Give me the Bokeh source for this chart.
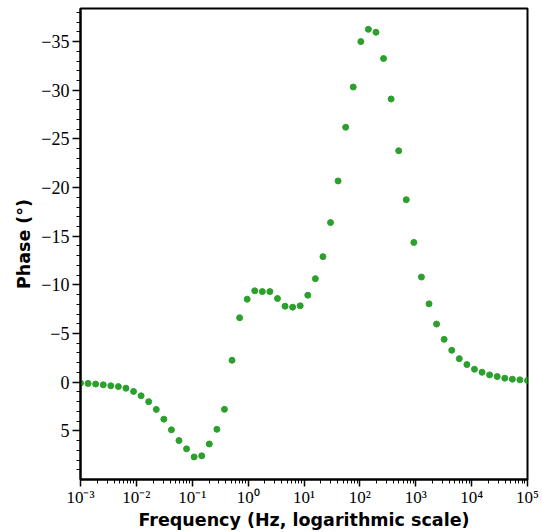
from bokeh.plotting import figure
from bokeh.models import Range1d, FixedTicker, CustomJSTickFormatter
from bokeh.embed import file_html
from bokeh.resources import INLINE

# Frequencies (Hz), log-spaced grid
freq = [0.001, 0.001367, 0.001868, 0.002552, 0.003488, 0.004764, 0.006512, 0.008896,
        0.01216, 0.01661, 0.02270, 0.03102, 0.04239, 0.05791, 0.07912, 0.1081,
        0.1477, 0.2019, 0.2759, 0.3770, 0.5151, 0.7038, 0.9618, 1.314, 1.796,
        2.454, 3.353, 4.581, 6.260, 8.555, 11.69, 15.97, 21.83, 29.83, 40.75,
        55.69, 76.09, 104.0, 142.1, 194.1, 265.3, 362.5, 495.3, 676.8, 924.8,
        1264, 1727, 2359, 3224, 4406, 6020, 8226, 11240, 15360, 20990, 28680,
        39190, 53550, 73170, 100000]

# Phase (degrees)
phase = [0.1, 0.13, 0.19, 0.27, 0.37, 0.45, 0.62, 0.95, 1.4, 2.0,
         2.8, 3.8, 4.9, 6.0, 6.85, 7.68, 7.57, 6.35, 4.84, 2.79,
         -2.25, -6.62, -8.53, -9.39, -9.31, -9.31, -8.6, -7.81, -7.71, -7.85,
         -8.94, -10.64, -12.9, -16.4, -20.68, -26.2, -30.33, -35.0, -36.26, -35.96,
         -33.26, -29.1, -23.78, -18.75, -14.36, -10.8, -8.05, -5.97, -4.4, -3.28,
         -2.42, -1.81, -1.33, -1.02, -0.75, -0.58, -0.41, -0.31, -0.24, -0.17]

x_major = [1e-3, 1e-2, 1e-1, 1e0, 1e1, 1e2, 1e3, 1e4, 1e5]
x_minor = [k * 10.0 ** e for e in range(-3, 5) for k in range(2, 10)]
y_major = [-35, -30, -25, -20, -15, -10, -5, 0, 5]
y_minor = list(range(-38, 10))

p = figure(width=542, height=532, x_axis_type="log",
           x_range=Range1d(1e-3, 1e5), y_range=Range1d(10, -38.4),
           output_backend="svg", toolbar_location=None,
           min_border_left=80, min_border_right=15,
           min_border_top=8, min_border_bottom=51)

p.scatter(freq, phase, size=6, color="#2ca02c", line_color="#2ca02c")

p.xgrid.visible = False
p.ygrid.visible = False
p.outline_line_color = "black"
p.outline_line_width = 2
p.outline_line_alpha = 1

p.xaxis.ticker = FixedTicker(ticks=x_major, minor_ticks=x_minor)
p.yaxis.ticker = FixedTicker(ticks=y_major, minor_ticks=y_minor)

p.xaxis.formatter = CustomJSTickFormatter(code="""
const e = Math.round(Math.log10(tick));
const m = {"-": "\\u207b", "0": "\\u2070", "1": "\\u00b9", "2": "\\u00b2", "3": "\\u00b3",
           "4": "\\u2074", "5": "\\u2075"};
return "10" + String(e).split("").map(c => m[c]).join("");
""")
p.yaxis.formatter = CustomJSTickFormatter(code="""
return tick < 0 ? "\\u2212" + Math.abs(tick) : String(tick);
""")

for ax in (p.xaxis, p.yaxis):
    ax.axis_line_width = 2
    ax.axis_line_color = "black"
    ax.major_tick_line_width = 1.5
    ax.minor_tick_line_width = 1
    ax.major_tick_in = 0
    ax.minor_tick_out = 4
    ax.minor_tick_in = 0
    ax.major_label_text_font = "Liberation Serif"
    ax.major_label_text_color = "black"
    ax.axis_label_text_font = "DejaVu Sans"
    ax.axis_label_text_font_style = "bold"
    ax.axis_label_text_font_size = "17.5px"
    ax.axis_label_text_color = "black"

p.yaxis.major_tick_out = 8
p.yaxis.major_label_standoff = 3
p.yaxis.major_label_text_font_size = "18px"
p.yaxis.axis_label_standoff = 4

p.xaxis.major_tick_out = 7
p.xaxis.major_label_standoff = 1
p.xaxis.major_label_text_font_size = "17px"
p.xaxis.axis_label_standoff = 0

p.xaxis.axis_label = "Frequency (Hz, logarithmic scale)"
p.yaxis.axis_label = "Phase (°)"

open("out.html", "w").write(file_html(p, INLINE))
